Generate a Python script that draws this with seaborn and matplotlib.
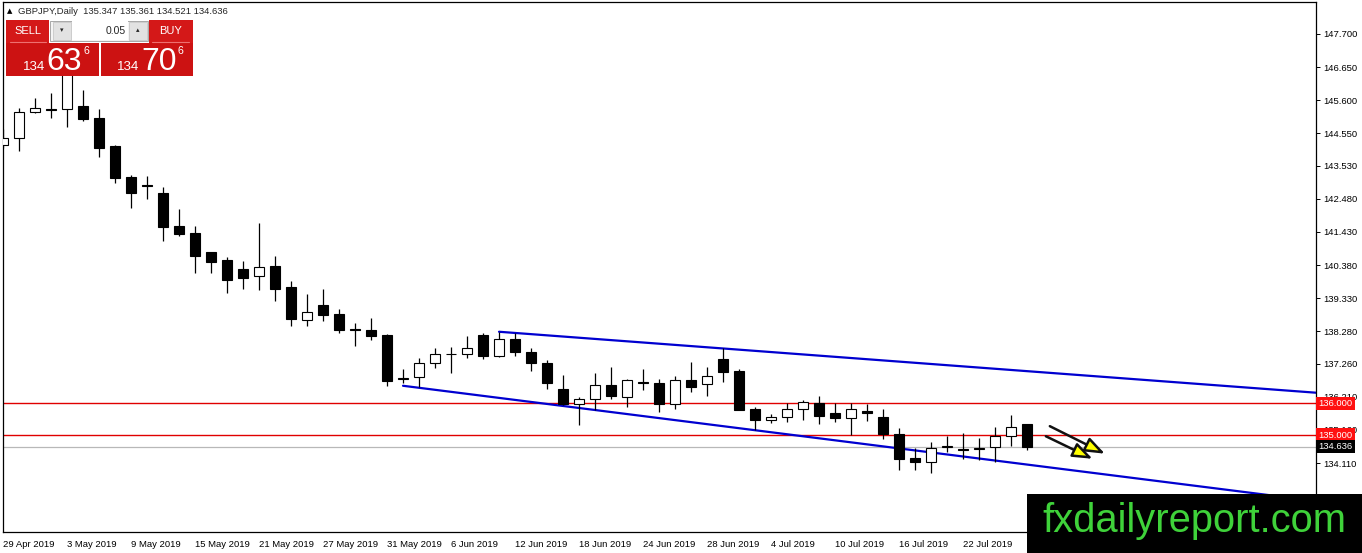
import numpy as np
import pandas as pd
import matplotlib
matplotlib.use("Agg")
import matplotlib.pyplot as plt
import seaborn as sns
from matplotlib.patches import Rectangle, FancyArrowPatch

W, H = 1362, 553

# daily GBPJPY candles, 29 Apr 2019 .. 26 Jul 2019
dates = pd.bdate_range("2019-04-29", periods=65)

opens = [144.18, 144.40, 145.22, 145.32, 145.31, 145.42, 145.03, 144.15, 143.17, 142.91,
         142.66, 141.62, 141.39, 140.79, 140.54, 140.25, 140.03, 140.35, 139.69, 138.65,
         139.12, 138.83, 138.36, 138.32, 138.17, 136.76, 136.83, 137.27, 137.56, 137.55,
         138.17, 137.51, 138.04, 137.62, 137.29, 136.45, 135.97, 136.13, 136.60, 136.21,
         136.67, 136.65, 135.97, 136.74, 136.61, 137.41, 137.03, 135.82, 135.47, 135.58,
         135.84, 136.03, 135.69, 135.53, 135.76, 135.58, 135.03, 134.26, 134.15, 134.62,
         134.56, 134.57, 134.63, 134.98, 135.347]
highs = [144.69, 145.35, 145.66, 145.82, 146.90, 145.93, 145.31, 144.18, 143.22, 143.20,
         142.84, 142.15, 141.62, 140.80, 140.63, 140.51, 141.70, 140.67, 139.88, 139.46,
         139.62, 138.99, 138.54, 138.69, 138.20, 137.08, 137.43, 137.74, 137.78, 138.13,
         138.22, 138.27, 138.22, 137.74, 137.37, 136.90, 136.19, 136.97, 137.16, 136.79,
         137.08, 136.79, 136.87, 137.30, 137.14, 137.74, 137.08, 135.90, 135.66, 136.00,
         136.11, 136.23, 136.00, 136.00, 135.97, 135.82, 135.21, 134.58, 134.77, 134.97,
         135.05, 134.92, 135.24, 135.63, 135.361]
lows = [144.09, 143.99, 145.19, 145.05, 144.76, 144.95, 143.81, 142.99, 142.18, 142.46,
        141.15, 141.31, 140.14, 140.14, 139.51, 139.62, 139.59, 139.25, 138.45, 138.45,
        138.61, 138.24, 137.83, 138.01, 136.55, 136.64, 136.53, 137.13, 136.95, 137.43,
        137.41, 137.46, 137.51, 137.03, 136.46, 135.95, 135.32, 135.79, 136.14, 135.90,
        136.42, 135.74, 135.82, 136.37, 136.23, 136.69, 135.79, 135.16, 135.39, 135.42,
        135.47, 135.34, 135.42, 135.00, 135.44, 134.87, 133.89, 133.89, 133.80, 134.47,
        134.24, 134.21, 134.15, 134.65, 134.521]
closes = [144.41, 145.22, 145.35, 145.30, 146.55, 145.01, 144.10, 143.15, 142.67, 142.90,
          141.60, 141.37, 140.68, 140.49, 139.92, 139.98, 140.33, 139.62, 138.68, 138.88,
          138.81, 138.33, 138.34, 138.14, 136.72, 136.82, 137.27, 137.55, 137.55, 137.74,
          137.51, 138.03, 137.64, 137.29, 136.65, 135.98, 136.13, 136.60, 136.23, 136.73,
          136.65, 135.97, 136.73, 136.53, 136.87, 137.01, 135.79, 135.47, 135.57, 135.84,
          136.04, 135.61, 135.55, 135.84, 135.69, 135.02, 134.24, 134.15, 134.58, 134.64,
          134.54, 134.58, 134.98, 135.24, 134.636]

# channel lines (bar index, price)
upper_x = [31, 82.06]
upper_y = [138.27, 136.34]
lower_x = [25, 82.06]
lower_y = [136.56, 132.91]

levels = [136.000, 135.000]
bid = 134.636

yticks = [147.700, 146.650, 145.600, 144.550, 143.530, 142.480, 141.430, 140.380,
          139.330, 138.280, 137.260, 136.210, 135.160, 134.110, 133.060]

# arrows: (x0, y0, x1, y1)
arrows = [(65.27, 135.32, 69.02, 134.37), (65.02, 135.00, 68.25, 134.21)]

sns.set_style("white")
plt.rcParams['font.family'] = ['Liberation Sans', 'DejaVu Sans']

fig = plt.figure(figsize=(W / 100, H / 100), dpi=100)
ax = fig.add_axes([2.7 / W, 1 - 532 / H, (1316 - 2.7) / W, (532 - 1.7) / H])

df = pd.DataFrame({"date": dates, "open": opens, "high": highs, "low": lows, "close": closes})
df["i"] = np.arange(len(df))
bull = df["close"] >= df["open"]
bottom = df[["open", "close"]].min(axis=1)
height = (df["close"] - df["open"]).abs().clip(lower=0.015)

ax.vlines(df["i"], df["low"], df["high"], color="black", lw=0.9, zorder=3)
ax.bar(df["i"], height, bottom=bottom, width=0.66,
       color=np.where(bull, "white", "black"), edgecolor="black", linewidth=0.8, zorder=4)

# horizontal levels and bid line
for lv in levels:
    ax.axhline(lv, color="#e00000", lw=1.0, zorder=1)
ax.axhline(bid, color="#b8b8b8", lw=0.9, zorder=1)

sns.lineplot(x=upper_x, y=upper_y, ax=ax, color="#0000d0", lw=1.6, zorder=2)
sns.lineplot(x=lower_x, y=lower_y, ax=ax, color="#0000d0", lw=1.6, zorder=2)

for x0, y0, x1, y1 in arrows:
    ax.add_patch(FancyArrowPatch((x0, y0), (x1, y1), arrowstyle="-|>,head_length=12,head_width=4.5",
                                 mutation_scale=1, lw=1.8, ec="#111111", fc="#ffff00", zorder=6))

ax.set_xlim(-0.02, 82.06)
ax.set_ylim(131.93, 148.72)

# axis styling like MT4
for s in ax.spines.values():
    s.set_color("black")
    s.set_linewidth(0.9)
ax.yaxis.tick_right()
ax.set_yticks(yticks)
ax.set_yticklabels([f"{v:.3f}" for v in yticks])
ax.tick_params(axis="y", direction="out", length=3, width=0.7, pad=2, labelsize=6.8, colors="black")
xt = list(range(0, 61, 4))
ax.set_xticks(xt)
ax.set_xticklabels([f"{dates[k].day} {dates[k].strftime('%b %Y')}" for k in xt], ha="left")
ax.tick_params(axis="x", direction="out", length=3, width=0.7, pad=2.5, labelsize=6.8, colors="black")
ax.set_xlabel("")
ax.set_ylabel("")

# price boxes on the right scale
ytr = ax.get_yaxis_transform()
for lv in levels:
    ax.text(1.0018, lv, f"{lv:.3f}", transform=ytr, ha="left", va="center", fontsize=6.8, color="white",
            bbox=dict(boxstyle="square,pad=0.25", fc="#ff1010", ec="none"), clip_on=False, zorder=10)
ax.text(1.0018, bid, f"{bid:.3f}", transform=ytr, ha="left", va="center", fontsize=6.8, color="white",
        bbox=dict(boxstyle="square,pad=0.25", fc="black", ec="none"), clip_on=False, zorder=10)

# overlay in pixel coordinates for the trade panel and watermark
ov = fig.add_axes([0, 0, 1, 1])
ov.set_xlim(0, W)
ov.set_ylim(H, 0)
ov.axis("off")
ov.patch.set_alpha(0)
ov.set_zorder(5)

ov.text(7, 11, "\u25b2", fontsize=5, ha="left", va="center", color="black", family=["DejaVu Sans"])
ov.text(18, 11, "GBPJPY,Daily  135.347 135.361 134.521 134.636", fontsize=6.8, ha="left", va="center")

red = "#cc1212"
ov.add_patch(Rectangle((6, 20), 43, 23, fc="#d41818", ec="none"))
ov.add_patch(Rectangle((149, 20), 44, 23, fc="#d41818", ec="none"))
ov.add_patch(Rectangle((6, 42.7), 93.3, 33.3, fc=red, ec="none"))
ov.add_patch(Rectangle((101, 42.7), 92, 33.3, fc=red, ec="none"))
ov.plot([10, 46], [41.6, 41.6], color="#ee7070", lw=0.8)
ov.plot([152, 189], [41.6, 41.6], color="#ee7070", lw=0.8)
ov.text(27.5, 31, "SELL", fontsize=8, color="white", ha="center", va="center")
ov.text(171, 31, "BUY", fontsize=8, color="white", ha="center", va="center")

# lot spinner
ov.add_patch(Rectangle((50, 20.5), 98, 20, fc="#f4f4f4", ec="#a8a8a8", lw=0.7))
ov.add_patch(Rectangle((53, 21.5), 18, 18, fc="#e2e2e2", ec="#c8c8c8", lw=0.6))
ov.add_patch(Rectangle((129, 21.5), 18, 18, fc="#e2e2e2", ec="#c8c8c8", lw=0.6))
ov.add_patch(Rectangle((72, 21), 56, 19, fc="white", ec="none"))
ov.text(62, 30.5, "\u25be", fontsize=5, ha="center", va="center", family=["DejaVu Sans"])
ov.text(138, 30.5, "\u25b4", fontsize=5, ha="center", va="center", family=["DejaVu Sans"])
ov.text(126, 30.5, "0.05", fontsize=7.5, ha="right", va="center")

for x_small, x_big, x_sup, big in [(23, 46, 83, "63"), (117, 141, 178, "70")]:
    ov.text(x_small, 69.5, "134", fontsize=9.5, color="white", ha="left", va="baseline")
    ov.text(x_big, 70, big, fontsize=23, color="white", ha="left", va="baseline")
    ov.text(x_sup, 54.5, "6", fontsize=7.7, color="white", ha="left", va="baseline")

# watermark
ov.add_patch(Rectangle((1027, 494), W - 1027, H - 494, fc="black", ec="none"))
ov.text(1042, 531.7, "fxdailyreport.com", fontsize=28.7, color="#3fd23a", ha="left", va="baseline")

fig.savefig("out.png", dpi=100)
